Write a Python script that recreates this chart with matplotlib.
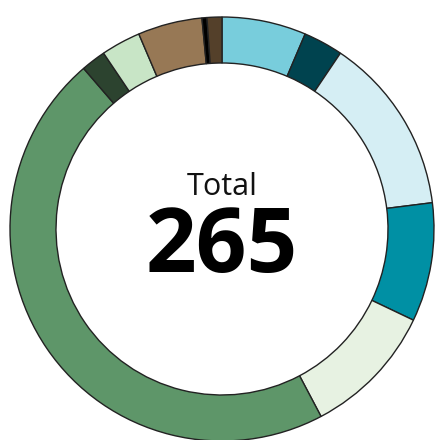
import matplotlib.pyplot as plt

# slices, clockwise from the top
labels = ["light blue", "dark teal", "pale blue", "teal", "pale green",
          "green", "dark green", "light green", "tan", "black", "dark brown"]
values = [17, 8, 36, 24, 27, 123, 5, 8, 13, 1, 3]
colors = ["#78CDDC", "#00434F", "#D5EEF4", "#0090A4", "#E7F2E2",
          "#5E9669", "#2C432F", "#C8E5C6", "#977855", "#000000", "#54402A"]
total = sum(values)

fig = plt.figure(figsize=(4.36, 4.40), dpi=100)
ax = fig.add_axes([0, 0, 1, 1])

ax.pie(values, colors=colors, radius=212, startangle=90, counterclock=False,
       wedgeprops=dict(width=46, edgecolor="#222222", linewidth=1.0))

ax.text(0, 34, "Total", ha="center", va="baseline", fontsize=22,
        family="Open Sans", color="#111111")
ax.text(0, -43, str(total), ha="center", va="baseline", fontsize=64,
        family="Open Sans", fontweight="bold", color="#000000")

ax.set_xlim(-222, 214)
ax.set_ylim(-211, 229)
ax.set_aspect("equal")
ax.axis("off")

fig.savefig("out.png", dpi=100)
